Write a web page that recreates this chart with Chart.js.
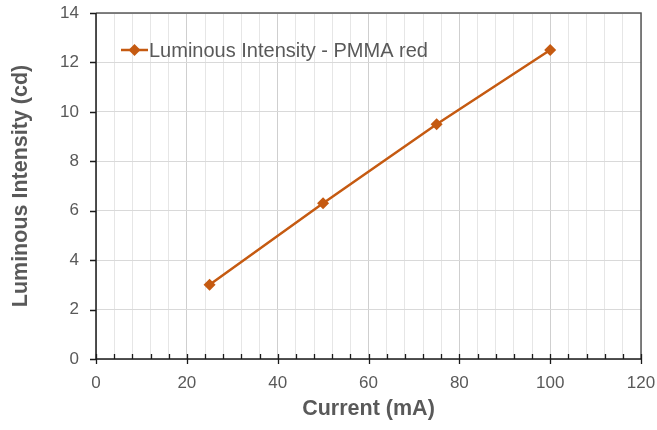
<!DOCTYPE html>
<html>
<head>
<meta charset="utf-8">
<script src="https://cdn.jsdelivr.net/npm/chart.js@4.4.1/dist/chart.umd.min.js"></script>
<style>
  html, body { margin: 0; padding: 0; background: #ffffff; }
  #wrap { width: 657px; height: 430px; position: relative; }
</style>
</head>
<body>
<div id="wrap"><canvas id="c" width="657" height="430"></canvas></div>
<script>
// Measured LED output versus drive current
const currents = [25, 50, 75, 100];             // mA
const intensities = [3.0, 6.3, 9.5, 12.5];      // cd
const seriesLabel = 'Luminous Intensity - PMMA red';
const xTitle = 'Current (mA)';
const yTitle = 'Luminous Intensity (cd)';

const LINE = '#C55A11';
const TEXT = '#595959';
const FONT = "'Liberation Sans', Arial, sans-serif";

const points = currents.map((x, i) => ({ x: x, y: intensities[i] }));

// Frame, axis lines and tick marks drawn from the scales
const framePlugin = {
  id: 'frame',
  beforeDatasetsDraw(chart) {
    const { ctx, chartArea: a, scales } = chart;
    const xs = scales.x, ys = scales.y;
    ctx.save();
    // top/right border
    ctx.strokeStyle = '#595959';
    ctx.lineWidth = 1.5;
    ctx.beginPath();
    ctx.moveTo(a.left, a.top);
    ctx.lineTo(a.right, a.top);
    ctx.lineTo(a.right, a.bottom);
    ctx.stroke();
    // axis lines
    ctx.strokeStyle = '#1a1a1a';
    ctx.lineWidth = 1.5;
    ctx.beginPath();
    ctx.moveTo(a.left, a.top);
    ctx.lineTo(a.left, a.bottom);
    ctx.lineTo(a.right, a.bottom);
    ctx.stroke();
    // x ticks: minor inward, major crossing
    ctx.lineWidth = 1.3;
    ctx.beginPath();
    for (let v = 0; v <= 120; v += 4) {
      const px = Math.round(xs.getPixelForValue(v)) + 0.5;
      const major = v % 20 === 0;
      ctx.moveTo(px, a.bottom - 5);
      ctx.lineTo(px, a.bottom + (major ? 5 : 0));
    }
    // y ticks: outward
    for (let v = 0; v <= 14; v += 2) {
      const py = Math.round(ys.getPixelForValue(v)) + 0.5;
      ctx.moveTo(a.left - 6, py);
      ctx.lineTo(a.left, py);
    }
    ctx.stroke();
    ctx.restore();
  },
  afterDraw(chart) {
    // in-plot legend entry
    const { ctx, chartArea: a } = chart;
    const ds = chart.data.datasets[0];
    const y = a.top + 37;
    const x0 = a.left + 25;
    ctx.save();
    ctx.strokeStyle = ds.borderColor;
    ctx.lineWidth = 2.5;
    ctx.beginPath();
    ctx.moveTo(x0, y);
    ctx.lineTo(x0 + 27, y);
    ctx.stroke();
    ctx.fillStyle = ds.backgroundColor;
    const r = 6;
    const cx = x0 + 13.5;
    ctx.beginPath();
    ctx.moveTo(cx, y - r);
    ctx.lineTo(cx + r, y);
    ctx.lineTo(cx, y + r);
    ctx.lineTo(cx - r, y);
    ctx.closePath();
    ctx.fill();
    ctx.fillStyle = TEXT;
    ctx.font = '20px ' + FONT;
    ctx.textBaseline = 'middle';
    ctx.textAlign = 'left';
    ctx.fillText(ds.label, x0 + 28, y + 1);
    ctx.restore();
  }
};

new Chart(document.getElementById('c'), {
  type: 'line',
  data: {
    datasets: [{
      label: seriesLabel,
      data: points,
      borderColor: LINE,
      backgroundColor: LINE,
      borderWidth: 2.5,
      pointStyle: 'rectRot',
      pointRadius: 6,
      pointHoverRadius: 6,
      pointBackgroundColor: LINE,
      pointBorderColor: LINE,
      pointBorderWidth: 0,
      tension: 0
    }]
  },
  options: {
    responsive: false,
    animation: false,
    devicePixelRatio: 1,
    layout: { padding: { top: 13, right: 16, left: 0, bottom: 0 } },
    plugins: {
      legend: { display: false },
      tooltip: { enabled: false }
    },
    scales: {
      x: {
        type: 'linear',
        min: 0,
        max: 120,
        afterFit(s) { s.height = 71; s.paddingLeft = 0; s.paddingRight = 0; },
        border: { display: false },
        grid: {
          drawTicks: false,
          color: (c) => (c.tick && c.tick.value % 20 === 0) ? '#cfcfcf' : '#e6e6e6',
          lineWidth: 1
        },
        ticks: {
          stepSize: 4,
          autoSkip: false,
          maxRotation: 0,
          padding: 14,
          color: TEXT,
          font: { family: FONT, size: 17 },
          callback: (v) => (v % 20 === 0 ? String(v) : '')
        },
        title: {
          display: true,
          text: xTitle,
          color: TEXT,
          font: { family: FONT, size: 21.5, weight: 'bold' },
          padding: { top: 4, bottom: 8 }
        }
      },
      y: {
        type: 'linear',
        min: 0,
        max: 14,
        afterFit(s) { s.width = 96; s.paddingTop = 0; s.paddingBottom = 0; },
        border: { display: false },
        grid: { drawTicks: false, color: '#d9d9d9', lineWidth: 1 },
        ticks: {
          stepSize: 2,
          padding: 17,
          color: TEXT,
          font: { family: FONT, size: 17 }
        },
        title: {
          display: true,
          text: yTitle,
          color: TEXT,
          font: { family: FONT, size: 21.5, weight: 'bold' },
          padding: { top: 8, bottom: 0 }
        }
      }
    }
  },
  plugins: [framePlugin]
});
</script>
</body>
</html>
